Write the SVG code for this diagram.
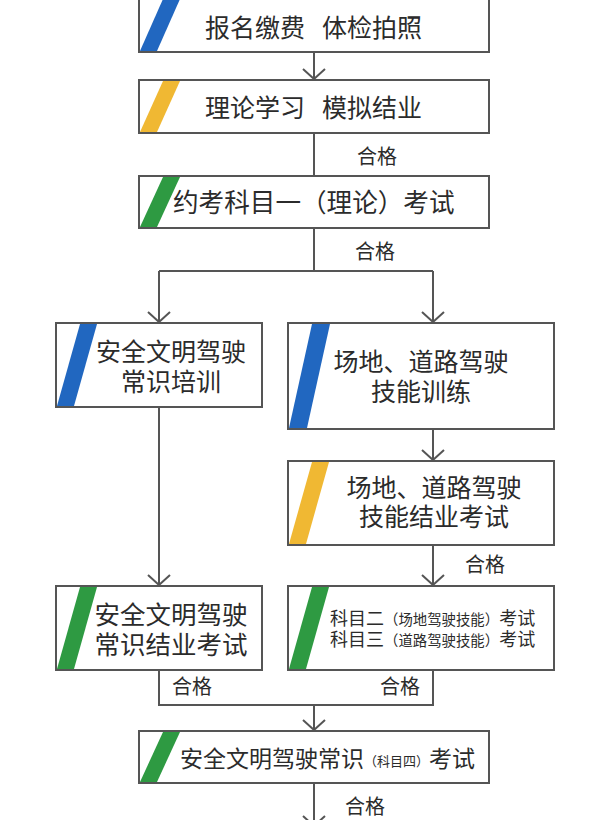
<svg xmlns="http://www.w3.org/2000/svg" width="600" height="820" viewBox="0 0 600 820">
<style>
.box{fill:#fff;stroke:#555;stroke-width:2}
.t{font-family:"Noto Sans CJK SC","Noto Sans",sans-serif;fill:#2b2b2b;font-size:25px}
.c{text-anchor:middle}
.lbl{font-family:"Noto Sans CJK SC","Noto Sans",sans-serif;fill:#2b2b2b;font-size:20px}
.blue{fill:#2167c0}
.yellow{fill:#f0b833}
.green{fill:#2e9a42}
.ln{fill:none;stroke:#555;stroke-width:2}
</style>
<defs>
<marker id="arr" markerUnits="userSpaceOnUse" viewBox="0 0 12 24" markerWidth="12" markerHeight="24" refX="11" refY="12" orient="auto">
<path d="M1,1 L11,12 L1,23" fill="none" stroke="#555" stroke-width="2"/>
</marker>
</defs>
<rect width="600" height="820" fill="#fff"/>
<g id="connectors">
<path class="ln" d="M314,52 V79" marker-end="url(#arr)"/>
<path class="ln" d="M314,133 V176"/>
<path class="ln" d="M314,228 V271"/>
<path class="ln" d="M159,271 H433"/>
<path class="ln" d="M159,271 V322" marker-end="url(#arr)"/>
<path class="ln" d="M433,271 V322" marker-end="url(#arr)"/>
<path class="ln" d="M433,429 V460" marker-end="url(#arr)"/>
<path class="ln" d="M159,407 V585" marker-end="url(#arr)"/>
<path class="ln" d="M433,545 V585" marker-end="url(#arr)"/>
<path class="ln" d="M159,670 V705 H433 V670"/>
<path class="ln" d="M314,705 V730" marker-end="url(#arr)"/>
<path class="ln" d="M314,783 V826" marker-end="url(#arr)"/>
<text class="lbl" x="357" y="164">合格</text>
<text class="lbl" x="355" y="259">合格</text>
<text class="lbl" x="465" y="572">合格</text>
<text class="lbl" x="172" y="694">合格</text>
<text class="lbl" x="380" y="694">合格</text>
<text class="lbl" x="345" y="814">合格</text>
</g>
<g id="n1">
<rect class="box" x="139" y="-6" width="350" height="58"/>
<polygon class="blue" points="140,51 157,51 180,-1 163,-1"/>
<text class="t" x="205" y="37">报名缴费<tspan x="322">体检拍照</tspan></text>
</g>
<g id="n2">
<rect class="box" x="139" y="80" width="350" height="53"/>
<polygon class="yellow" points="140,132 157,132 180,81 163,81"/>
<text class="t" x="205" y="117">理论学习<tspan x="322">模拟结业</tspan></text>
</g>
<g id="n3">
<rect class="box" x="139" y="176" width="350" height="52"/>
<polygon class="green" points="140,227 157,227 180,177 163,177"/>
<text class="t" x="173" y="212" style="font-size:25.6px">约考科目一（理论）考试</text>
</g>
<g id="n4">
<rect class="box" x="56" y="323" width="206" height="84"/>
<polygon class="blue" points="57,406 74,406 97,324 80,324"/>
<text class="t c" x="171" y="361">安全文明驾驶</text>
<text class="t c" x="171" y="391">常识培训</text>
</g>
<g id="n5">
<rect class="box" x="288" y="323" width="266" height="106"/>
<polygon class="blue" points="289,428 307,428 330,324 312,324"/>
<text class="t c" x="421" y="371">场地、道路驾驶</text>
<text class="t c" x="421" y="401">技能训练</text>
</g>
<g id="n6">
<rect class="box" x="288" y="461" width="266" height="84"/>
<polygon class="yellow" points="289,544 306,544 329,462 312,462"/>
<text class="t c" x="434" y="497">场地、道路驾驶</text>
<text class="t c" x="434" y="526">技能结业考试</text>
</g>
<g id="n7">
<rect class="box" x="56" y="586" width="206" height="84"/>
<polygon class="green" points="57,669 74,669 97,587 80,587"/>
<text class="t c" x="171" y="624" style="font-size:25.5px">安全文明驾驶</text>
<text class="t c" x="171" y="654" style="font-size:25.5px">常识结业考试</text>
</g>
<g id="n8">
<rect class="box" x="288" y="586" width="266" height="84"/>
<polygon class="green" points="289,669 306,669 329,587 312,587"/>
<text class="t" x="330" y="625" style="font-size:18px">科目二<tspan style="font-size:14.4px">（场地驾驶技能）</tspan>考试</text>
<text class="t" x="330" y="646" style="font-size:18px">科目三<tspan style="font-size:14.4px">（道路驾驶技能）</tspan>考试</text>
</g>
<g id="n9">
<rect class="box" x="139" y="731" width="350" height="52"/>
<polygon class="green" points="140,782 157,782 180,732 163,732"/>
<text class="t" x="180" y="767" style="font-size:23px">安全文明驾驶常识<tspan style="font-size:13px" dy="-1">（科目四）</tspan><tspan dy="1">考试</tspan></text>
</g>
</svg>
